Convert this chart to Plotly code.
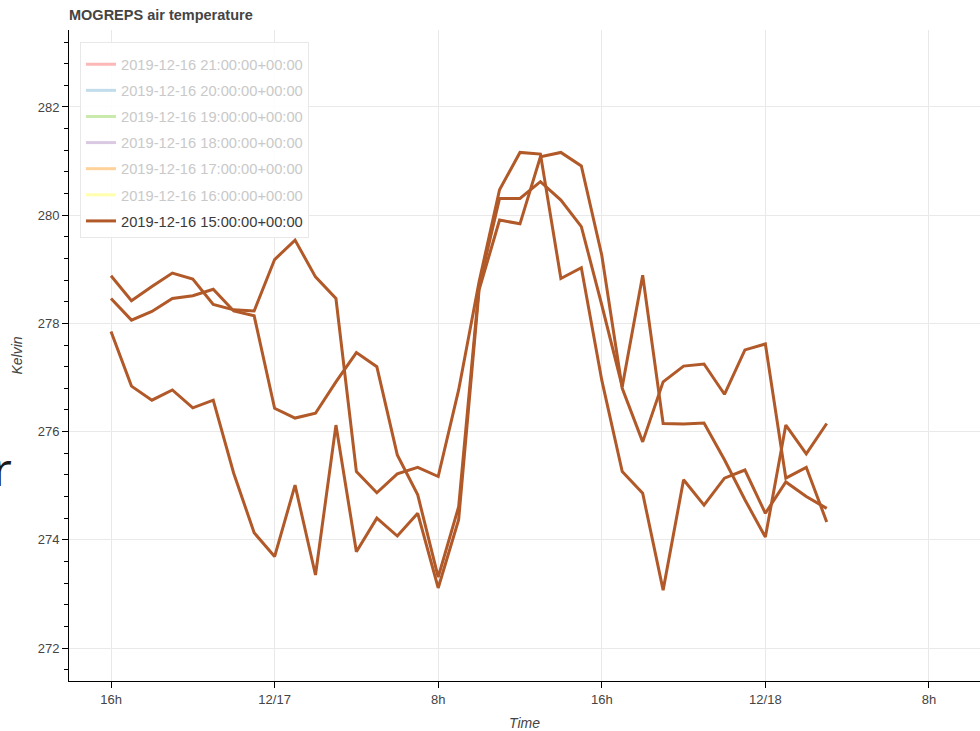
import pandas as pd
import plotly.graph_objects as go

# ---- data -------------------------------------------------------------
times = pd.date_range("2019-12-16 16:00", "2019-12-18 03:00", freq="h")

member_a = [278.88, 278.42, 278.68, 278.93, 278.82, 278.35, 278.25, 278.23, 279.18, 279.54,
            278.86, 278.46, 275.26, 274.87, 275.22, 275.34, 275.17, 276.77, 278.77, 280.47,
            281.16, 281.13, 278.83, 279.03, 276.95, 275.26, 274.86, 273.07, 275.11, 274.64,
            275.14, 275.29, 274.49, 275.07, 274.80, 274.58]
member_b = [278.46, 278.06, 278.22, 278.46, 278.51, 278.63, 278.23, 278.14, 276.43, 276.25,
            276.34, 276.92, 277.46, 277.20, 275.57, 274.83, 273.31, 274.61, 278.69, 280.31,
            280.31, 280.62, 280.28, 279.79, 278.34, 276.83, 278.89, 276.15, 276.14, 276.16,
            275.48, 274.74, 274.05, 276.12, 275.59, 276.15]
member_c = [277.85, 276.84, 276.58, 276.77, 276.44, 276.58, 275.23, 274.13, 273.69, 275.01,
            273.35, 276.12, 273.78, 274.40, 274.07, 274.49, 273.11, 274.37, 278.62, 279.91,
            279.84, 281.08, 281.16, 280.91, 279.26, 276.80, 275.81, 276.92, 277.21, 277.25,
            276.69, 277.51, 277.62, 275.14, 275.34, 274.33]
members = [member_a, member_b, member_c]

hidden_runs = ["2019-12-16 21:00:00+00:00", "2019-12-16 20:00:00+00:00",
               "2019-12-16 19:00:00+00:00", "2019-12-16 18:00:00+00:00",
               "2019-12-16 17:00:00+00:00", "2019-12-16 16:00:00+00:00"]
hidden_colors = ["rgba(251,154,153,0.7)", "rgba(166,206,227,0.7)", "rgba(178,223,138,0.7)",
                 "rgba(202,178,214,0.7)", "rgba(253,191,111,0.7)", "rgba(255,255,153,0.8)"]
active_run = "2019-12-16 15:00:00+00:00"
active_color = "#b15928"

tick_vals = ["2019-12-16 16:00", "2019-12-17 00:00", "2019-12-17 08:00",
             "2019-12-17 16:00", "2019-12-18 00:00", "2019-12-18 08:00"]
tick_text = ["16h", "12/17", "8h", "16h", "12/18", "8h"]

x_range = ["2019-12-16 13:56:45", "2019-12-18 10:29:45"]
y_range = [271.39, 283.423]

# ---- figure -----------------------------------------------------------
FONT = "Liberation Sans, Arial, Helvetica, sans-serif"
fig = go.Figure()

for name, col in zip(hidden_runs, hidden_colors):
    fig.add_trace(go.Scatter(
        x=[None], y=[None], mode="lines",
        name=f"<span style='color:#c9c9c9'>{name}</span>",
        line=dict(color=col, width=3), legendgroup=name))

for i, vals in enumerate(members):
    fig.add_trace(go.Scatter(
        x=times, y=vals, mode="lines", name=active_run,
        line=dict(color=active_color, width=3),
        legendgroup=active_run, showlegend=(i == 0)))

fig.update_layout(
    width=980, height=731,
    margin=dict(l=69, r=0, t=30, b=50, autoexpand=False),
    paper_bgcolor="white", plot_bgcolor="white",
    font=dict(family=FONT, color="#444444", size=13),
    title=dict(text="<b>MOGREPS air temperature</b>", x=69 / 980, xanchor="left",
               y=1 - 15 / 731, yanchor="middle",
               font=dict(size=14.5, color="#444444", family=FONT)),
    showlegend=True,
    legend=dict(x=11 / 911, y=1 - 12 / 651, xanchor="left", yanchor="top",
                bgcolor="rgba(255,255,255,0.9)", bordercolor="#e8e8e8", borderwidth=1,
                font=dict(size=14.7, color="#3a3a3a", family=FONT),
                title=dict(text=" ", font=dict(size=4)),
                traceorder="grouped", tracegroupgap=4),
    annotations=[dict(text="r", xref="paper", yref="paper",
                      x=(14 - 69) / 911, y=(681 - 468) / 651,
                      xanchor="right", yanchor="middle", showarrow=False,
                      font=dict(size=46, color="#1a1a1a", family="Open Sans"))],
)

fig.update_xaxes(
    range=x_range, type="date", automargin=False,
    tickvals=tick_vals, ticktext=tick_text,
    showline=True, linecolor="black", linewidth=1,
    ticks="outside", ticklen=6, tickcolor="black",
    showgrid=True, gridcolor="#e9e9e9", gridwidth=1, zeroline=False,
    tickfont=dict(size=13, color="#444444"),
    title=dict(text="<i>Time</i>", font=dict(size=14, color="#444444"), standoff=20),
)
fig.update_yaxes(
    range=y_range, dtick=2, tick0=272, automargin=False,
    showline=True, linecolor="black", linewidth=1,
    ticks="outside", ticklen=6, tickcolor="black",
    minor=dict(dtick=0.4, tick0=272, ticks="outside", ticklen=4, tickcolor="black", showgrid=False),
    showgrid=True, gridcolor="#e9e9e9", gridwidth=1, zeroline=False,
    tickfont=dict(size=13, color="#444444"),
    title=dict(text="<i>Kelvin</i>", font=dict(size=14, color="#444444"), standoff=11),
)

fig.write_html("out.html", config={"displayModeBar": False},
               post_script="document.body.style.margin='0px';document.body.style.overflow='hidden';")
